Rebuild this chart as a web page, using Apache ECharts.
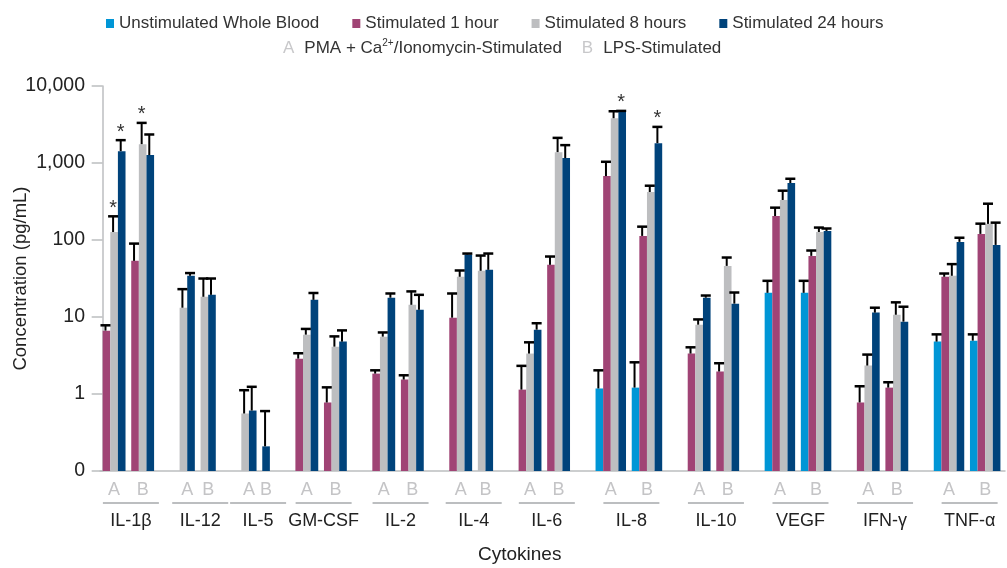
<!DOCTYPE html>
<html><head><meta charset="utf-8">
<script src="https://cdn.jsdelivr.net/npm/echarts/dist/echarts.min.js"></script>
<style>html,body{margin:0;padding:0;background:#fff}#c{width:1007px;height:568px}</style>
</head><body><div id="c"></div><script>
// ---- data ----
const cytokines = ['IL-1β','IL-12','IL-5','GM-CSF','IL-2','IL-4','IL-6','IL-8','IL-10','VEGF','IFN-γ','TNF-α'];
const groupLetters = ['A','B'];
const seriesNames = ['Unstimulated Whole Blood','Stimulated 1 hour','Stimulated 8 hours','Stimulated 24 hours'];
// each array: [cytokine A, cytokine B] pairs in the order of `cytokines`
const unstimulated    = [null,null, null,null, null,null, null,null, null,null, null,null, null,null, 1.18,1.21, null,null, 20.6,20.6, null,null, 4.79,4.93];
const unstimulatedErr = [null,null, null,null, null,null, null,null, null,null, null,null, null,null, 2.03,2.58, null,null, 29.5,29.5, null,null, 5.95,5.95];
const stim1h    = [6.65,53.6, null,null, null,null, 2.88,0.776, 1.84,1.54, 9.8,null, 1.14,47.6, 676,113, 3.35,1.96, 205,62.2, 0.776,1.21, 33.3,120];
const stim1hErr = [7.8,89.8, null,null, null,null, 3.38,1.22, 2.03,1.75, 20.2,null, 2.32,61, 1037,149, 4.04,2.51, 263,73, 1.26,1.42, 36.7,163];
const stim8h    = [127,1757, 13.2,18.3, 0.558,null, 5.9,4.12, 5.56,14.4, 33.3,39.8, 3.35,1384, 3819,420, 7.95,46.1, 331,127, 2.34,10.7, 34.3,162];
const stim8hErr = [203,3318, 23,31.6, 1.12,null, 7.0,5.6, 6.3,21.5, 40.2,62.8, 4.69,2120, 4698,507, 9.3,59.2, 437,145, 3.25,15.5, 48.6,296];
const stim24h    = [1426,1266, 34.3,19.4, 0.61,0.209, 16.7,4.79, 17.8,12.4, 64.7,41.0, 6.85,1158, 4698,1811, 17.8,14.9, 550,131, 11.4,8.7, 94.5,86.3];
const stim24hErr = [1980,2346, 37.2,31.6, 1.24,0.60, 20.5,6.7, 20.2,19.4, 66.7,66.7, 8.3,1706, 4750,2944, 19.0,20.8, 624,141, 13.2,13.6, 107,168];
// [cytokine index, group (0=A,1=B), series index] marked with *
const significant = [[0,0,2],[0,0,3],[0,1,2],[7,0,3],[7,1,3]];
const yTicks = [0.1, 1, 10, 100, 1000, 10000];
const yTickLabels = ['0', '1', '10', '100', '1,000', '10,000'];

// ---- styling ----
const colors = ['#0096D6', '#A04475', '#BDBEC0', '#00437B'];
const FONT = 'Liberation Sans, Arial, sans-serif';
const BAR = 1, GAP_AB = 0.75, GAP_C = 3.35;

// ---- layout (slot positions along a value axis) ----
const values = [unstimulated, stim1h, stim8h, stim24h];
const errors = [unstimulatedErr, stim1hErr, stim8hErr, stim24hErr];
const barData = [[], [], [], []];
const errData = [];
const labelData = [];
let cursor = 0;
cytokines.forEach((name, c) => {
  const start = cursor;
  const centers = [];
  for (let g = 0; g < 2; g++) {
    const gs = cursor;
    for (let s = 0; s < 4; s++) {
      const v = values[s][2 * c + g];
      if (v == null) continue;
      const star = significant.some(a => a[0] === c && a[1] === g && a[2] === s) ? 1 : 0;
      barData[s].push([cursor, v]);
      errData.push([cursor, v, errors[s][2 * c + g], star]);
      cursor += BAR;
    }
    centers.push((gs + cursor) / 2);
    if (g === 0) cursor += GAP_AB;
  }
  labelData.push([(start + cursor) / 2 + 0.33, centers[0], centers[1], c]);
  cursor += GAP_C;
});
const total = cursor - GAP_C;

function barRender(params, api) {
  const x = api.value(0), v = api.value(1);
  const p0 = api.coord([x, v]);
  const p1 = api.coord([x + BAR, 0.1]);
  return { type: 'rect', shape: { x: p0[0], y: p0[1], width: p1[0] - p0[0], height: p1[1] - p0[1] },
           style: { fill: api.visual('color') } };
}
function errRender(params, api) {
  const x = api.value(0), v = api.value(1), e = api.value(2), star = api.value(3);
  const top = api.coord([x + BAR / 2, v]);
  const ep = api.coord([x + BAR / 2, e]);
  const cx = top[0] - 1;
  const children = [
    { type: 'line', shape: { x1: cx, y1: top[1], x2: cx, y2: ep[1] }, style: { stroke: '#000', lineWidth: 2 } },
    { type: 'line', shape: { x1: cx - 5, y1: ep[1], x2: cx + 5, y2: ep[1] }, style: { stroke: '#000', lineWidth: 2.5 } }
  ];
  if (star) children.push({ type: 'text', x: cx, y: ep[1] - 8,
    style: { text: '*', font: '20px ' + FONT, fill: '#333', align: 'center', verticalAlign: 'middle' } });
  return { type: 'group', children };
}
function labelRender(params, api) {
  const base = api.coord([api.value(0), 0.1]);
  const a = api.coord([api.value(1), 0.1]);
  const b = api.coord([api.value(2), 0.1]);
  const name = cytokines[api.value(3)];
  const abStyle = { font: '18px ' + FONT, fill: '#C4C4C6', align: 'center', verticalAlign: 'middle' };
  return { type: 'group', children: [
    { type: 'text', x: a[0], y: base[1] + 19, style: Object.assign({ text: groupLetters[0] }, abStyle) },
    { type: 'text', x: b[0], y: base[1] + 19, style: Object.assign({ text: groupLetters[1] }, abStyle) },
    { type: 'line', shape: { x1: base[0] - 28, y1: base[1] + 32, x2: base[0] + 28, y2: base[1] + 32 },
      style: { stroke: '#BCBEC0', lineWidth: 2 } },
    { type: 'text', x: base[0], y: base[1] + 50,
      style: { text: name, font: '18px ' + FONT, fill: '#222', align: 'center', verticalAlign: 'middle' } }
  ] };
}

const chart = echarts.init(document.getElementById('c'), null, { renderer: 'canvas' });
const series = seriesNames.map((n, s) => ({
  name: n, type: 'custom', renderItem: barRender, data: barData[s],
  itemStyle: { color: colors[s] }, encode: { x: 0, y: 1 }, clip: false, z: 2
}));
series.push({ type: 'custom', name: 'err', renderItem: errRender, data: errData, encode: { x: 0, y: 1 }, clip: false, z: 5, silent: true });
series.push({ type: 'custom', name: 'labels', renderItem: labelRender, data: labelData, encode: { x: 0 }, clip: false, z: 5, silent: true });

chart.setOption({
  animation: false,
  grid: { left: 100, right: 2, top: 86, bottom: 97, containLabel: false, outerBoundsMode: 'none' },
  legend: {
    data: seriesNames, top: 10, left: 101, icon: 'rect', itemWidth: 8, itemHeight: 9, itemGap: 33,
    textStyle: { fontFamily: FONT, fontSize: 17, color: '#333' }, selectedMode: false
  },
  graphic: [
    { type: 'text', left: 283, top: 38, style: {
        text: '{a|A}{t|PMA + Ca}{s|2+}{t|/Ionomycin-Stimulated}{b|B}{t|LPS-Stimulated}',
        font: '17px ' + FONT,
        rich: {
          a: { fontFamily: FONT, fontSize: 17, fill: '#C8C8CA', color: '#C8C8CA', padding: [0, 10, 0, 0], lineHeight: 20 },
          b: { fontFamily: FONT, fontSize: 17, fill: '#C8C8CA', color: '#C8C8CA', padding: [0, 10, 0, 20], lineHeight: 20 },
          t: { fontFamily: FONT, fontSize: 17, fill: '#333', color: '#333', lineHeight: 20 },
          s: { fontFamily: FONT, fontSize: 10, fill: '#333', color: '#333', lineHeight: 20, verticalAlign: 'top' }
        } } },
    { type: 'text', left: 478, top: 545, style: { text: 'Cytokines', font: '19px ' + FONT, fill: '#222' } }
  ],
  xAxis: {
    type: 'value', min: -0.35, max: total + 0.6,
    axisLine: { show: true, lineStyle: { color: '#BCBEC0', width: 1.5 } },
    axisTick: { show: false }, axisLabel: { show: false }, splitLine: { show: false }
  },
  yAxis: {
    type: 'log', logBase: 10, min: 0.1, max: 10000,
    name: 'Concentration (pg/mL)', nameLocation: 'middle', nameGap: 70, nameRotate: 90, nameMoveOverlap: false,
    nameTextStyle: { fontFamily: FONT, fontSize: 18.5, color: '#222' },
    axisLine: { show: true, lineStyle: { color: '#BCBEC0', width: 1.5 } },
    axisTick: { show: true, inside: false, length: 11, lineStyle: { color: '#BCBEC0', width: 1.5 } },
    minorTick: { show: false },
    splitLine: { show: false },
    axisLabel: { margin: 15, fontFamily: FONT, fontSize: 19.5, color: '#222',
      formatter: v => { const i = yTicks.findIndex(t => Math.abs(Math.log10(t) - Math.log10(v)) < 1e-6); return i >= 0 ? yTickLabels[i] : ''; } }
  },
  series
});
</script></body></html>
